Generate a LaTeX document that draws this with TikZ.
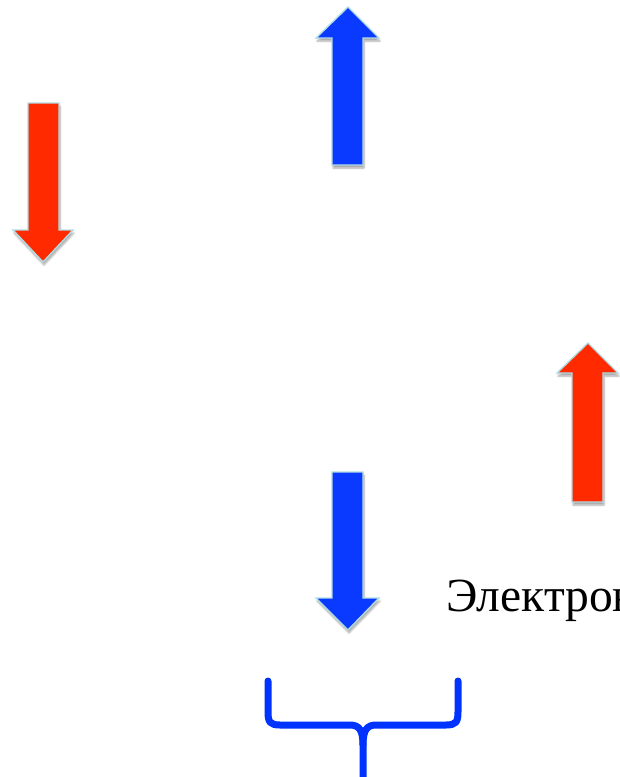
\documentclass[tikz,border=0pt]{standalone}
\usepackage{fontspec}
\setmainfont{Liberation Serif}
\usetikzlibrary{shadows.blur}
\definecolor{arrred}{HTML}{FF2A00}
\definecolor{arrblue}{HTML}{0A3AFF}
\definecolor{rimcol}{HTML}{B2DCE4}
\definecolor{bracecol}{HTML}{0033FF}
\tikzset{
  arrowshape/.style={draw=rimcol, line width=1.4pt, line join=miter,
    blur shadow={shadow xshift=1pt, shadow yshift=-3pt, shadow blur steps=6, shadow opacity=35}},
  redarrow/.style={arrowshape, fill=arrred},
  bluearrow/.style={arrowshape, fill=arrblue},
  bracestyle/.style={draw=bracecol, line width=7pt, line cap=round, line join=round},
  labeltext/.style={font=\fontsize{47.5pt}{56pt}\selectfont, inner sep=0pt, anchor=base west}
}
\begin{document}
\begin{tikzpicture}[x=1pt,y=-1pt]
\useasboundingbox (0,0) rectangle (619,777);
% red down arrow (left)
\path[redarrow] (28,103) -- (59,103) -- (59,230) -- (73,230) -- (43,262) -- (13,230) -- (28,230) -- cycle;
% blue up arrow (top)
\path[bluearrow] (348,7) -- (379,38) -- (363,38) -- (363,165) -- (332,165) -- (332,38) -- (316,38) -- cycle;
% red up arrow (right)
\path[redarrow] (588,343) -- (618,373) -- (603,373) -- (603,502) -- (572,502) -- (572,373) -- (557,373) -- cycle;
% blue down arrow (bottom)
\path[bluearrow] (332,472) -- (363,472) -- (363,598) -- (379,598) -- (348,630) -- (316,598) -- (332,598) -- cycle;
% label
\node[labeltext] (lbl) at (446,611) {Электрон};
% brace
\draw[bracestyle] (268,681) -- (268,712) .. controls (268,722) and (270,725) .. (280,725) -- (350,725) .. controls (359,725) and (363,730) .. (363,745) -- (363,780);
\draw[bracestyle] (458,681) -- (458,712) .. controls (458,722) and (456,725) .. (446,725) -- (376,725) .. controls (367,725) and (363,730) .. (363,745);
\end{tikzpicture}
\end{document}
